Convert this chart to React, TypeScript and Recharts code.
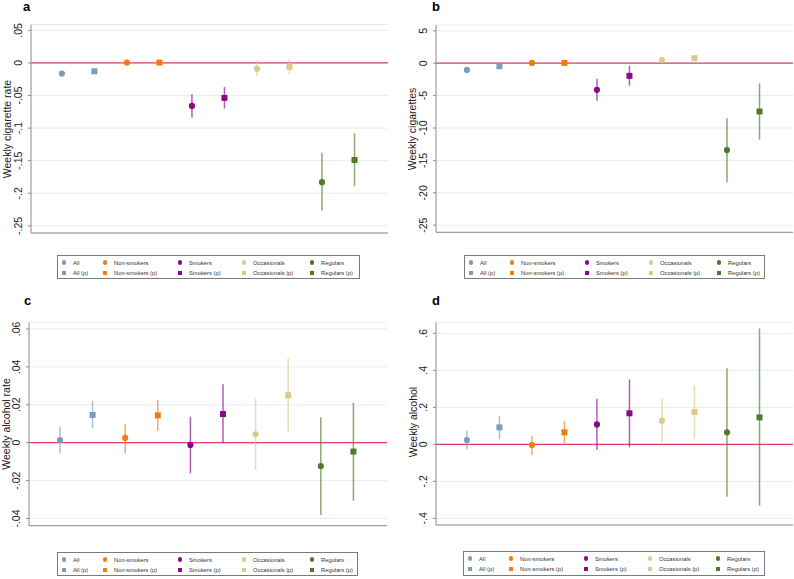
import React from "react";
import {
  ScatterChart,
  Scatter,
  ErrorBar,
  XAxis,
  YAxis,
  CartesianGrid,
  ReferenceLine,
} from "recharts";

// series (same order in every panel)
const seriesNames = [
  "All",
  "All (p)",
  "Non-smokers",
  "Non-smokers (p)",
  "Smokers",
  "Smokers (p)",
  "Occasionals",
  "Occasionals (p)",
  "Regulars",
  "Regulars (p)",
];
const seriesColors = [
  "#7c9cbc",
  "#7c9cbc",
  "#ee7d14",
  "#ee7d14",
  "#880a88",
  "#880a88",
  "#d8cc8a",
  "#d8cc8a",
  "#4f7a2c",
  "#4f7a2c",
];
const seriesShapes = ["circle", "square", "circle", "square", "circle", "square", "circle", "square", "circle", "square"];

// a - weekly cigarette rate
const cigRateEst = [-0.0163, -0.0128, 0.0005, 0.0005, -0.066, -0.0536, -0.009, -0.006, -0.183, -0.149];
const cigRateLow = [-0.0185, -0.015, -0.001, -0.001, -0.084, -0.07, -0.02, -0.018, -0.227, -0.189];
const cigRateHigh = [-0.014, -0.0106, 0.002, 0.002, -0.048, -0.037, 0.004, 0.006, -0.138, -0.108];
const cigRateTicks = [0.05, 0, -0.05, -0.1, -0.15, -0.2, -0.25];

// b - weekly cigarettes
const cigEst = [-1.03, -0.46, 0.05, 0.05, -4.1, -1.95, 0.5, 0.77, -13.4, -7.45];
const cigLow = [-1.4, -0.8, -0.2, -0.2, -5.8, -3.45, 0.1, 0.35, -18.4, -11.8];
const cigHigh = [-0.65, -0.1, 0.3, 0.3, -2.4, -0.4, 0.9, 1.2, -8.5, -3.1];
const cigTicks = [5, 0, -5, -10, -15, -20, -25];

// c - weekly alcohol rate
const alcRateEst = [0.0014, 0.0146, 0.0025, 0.0144, -0.0012, 0.0151, 0.0044, 0.025, -0.0123, -0.0047];
const alcRateLow = [-0.0056, 0.0076, -0.0056, 0.0062, -0.0162, 0.0, -0.0144, 0.0058, -0.0381, -0.0306];
const alcRateHigh = [0.0084, 0.022, 0.0098, 0.0225, 0.0137, 0.0308, 0.0232, 0.0445, 0.0134, 0.0211];
const alcRateTicks = [0.06, 0.04, 0.02, 0, -0.02, -0.04];

// d - weekly alcohol
const alcEst = [0.023, 0.092, -0.004, 0.065, 0.108, 0.168, 0.128, 0.175, 0.065, 0.146];
const alcLow = [-0.027, 0.027, -0.058, 0.005, -0.031, -0.016, 0.011, 0.032, -0.283, -0.332];
const alcHigh = [0.074, 0.153, 0.047, 0.126, 0.247, 0.351, 0.247, 0.317, 0.411, 0.627];
const alcTicks = [0.6, 0.4, 0.2, 0, -0.2, -0.4];

const FONT = '"Liberation Sans", Arial, Helvetica, sans-serif';
const PW = 397;
const PH = 290;

const fmt = (v: number) =>
  v === 0 ? "0" : Number(v.toFixed(4)).toString().replace(/^(-?)0\./, "$1.");

const RotTick = (props: any) => {
  const { x, y, payload } = props;
  return (
    <text
      x={x}
      y={y}
      transform={`rotate(-90 ${x} ${y})`}
      textAnchor="middle"
      fontSize={10.5}
      fontFamily={FONT}
      fill="#222"
    >
      {fmt(payload.value)}
    </text>
  );
};

const markerShape = (kind: string, color: string) => (p: any) =>
  kind === "circle" ? (
    <circle cx={p.cx} cy={p.cy} r={3.1} fill={color} />
  ) : (
    <rect x={p.cx - 3} y={p.cy - 3} width={6} height={6} fill={color} />
  );

const legendCols = [6, 47, 122, 186, 254];

const LegendBox = ({ left, top, width, height }: any) => (
  <div
    style={{
      position: "absolute",
      left,
      top,
      width,
      height,
      border: "1px solid #7a7a7a",
      boxSizing: "border-box",
      background: "#fff",
      fontFamily: FONT,
      fontSize: 5.8,
      color: "#333",
    }}
  >
    {seriesNames.map((name, i) => {
      const col = Math.floor(i / 2);
      const row = i % 2;
      const cx = legendCols[col];
      const cy = row === 0 ? 6.5 : 17;
      return (
        <div key={name}>
          <div
            style={{
              position: "absolute",
              left: cx - 2.2,
              top: cy - 2.2,
              width: 4.4,
              height: 4.4,
              borderRadius: seriesShapes[i] === "circle" ? "50%" : 0,
              background: seriesColors[i],
            }}
          />
          <div
            style={{
              position: "absolute",
              left: cx + 9,
              top: cy - 4,
              lineHeight: "8px",
              whiteSpace: "nowrap",
            }}
          >
            {name}
          </div>
        </div>
      );
    })}
  </div>
);

interface PanelProps {
  letter: string;
  title: string;
  left: number;
  top: number;
  axisX: number;
  plotTop: number;
  plotBottom: number;
  plotRight: number;
  domain: [number, number];
  ticks: number[];
  est: number[];
  low: number[];
  high: number[];
  letterX: number;
  letterY: number;
  titleX: number;
  titleY: number;
  legend: { left: number; top: number; width: number; height: number };
}

const Panel = (p: PanelProps) => {
  const points = p.est.map((v, i) => ({
    x: i + 1,
    y: v,
    err: [v - p.low[i], p.high[i] - v],
  }));
  return (
    <>
      <div style={{ position: "absolute", left: p.left, top: p.top, width: PW, height: PH }}>
        <ScatterChart
          width={PW}
          height={PH}
          margin={{ top: p.plotTop, right: PW - p.plotRight, bottom: PH - p.plotBottom - 1, left: 0 }}
        >
          <CartesianGrid horizontal vertical={false} stroke="#e3eff2" />
          <XAxis
            type="number"
            dataKey="x"
            domain={[0.05, 11.03]}
            allowDataOverflow
            height={1}
            tick={false}
            tickLine={false}
            axisLine={{ stroke: "#8c8c8c" }}
          />
          <YAxis
            type="number"
            dataKey="y"
            width={p.axisX}
            domain={p.domain}
            allowDataOverflow
            ticks={p.ticks}
            interval={0}
            tick={<RotTick />}
            tickSize={3}
            tickMargin={6}
            tickLine={{ stroke: "#8c8c8c" }}
            axisLine={{ stroke: "#8c8c8c" }}
          />
          <ReferenceLine y={0} stroke="#e0405e" strokeWidth={1.2} />
          {points.map((pt, i) => (
            <Scatter
              key={seriesNames[i]}
              name={seriesNames[i]}
              data={[pt]}
              fill={seriesColors[i]}
              shape={markerShape(seriesShapes[i], seriesColors[i])}
              isAnimationActive={false}
            >
              <ErrorBar
                dataKey="err"
                direction="y"
                width={0}
                stroke={seriesColors[i]}
                strokeOpacity={0.65}
                strokeWidth={1.5}
              />
            </Scatter>
          ))}
        </ScatterChart>
      </div>
      <div
        style={{
          position: "absolute",
          left: p.letterX,
          top: p.letterY,
          fontFamily: FONT,
          fontWeight: "bold",
          fontSize: 13,
          lineHeight: "13px",
        }}
      >
        {p.letter}
      </div>
      <div
        style={{
          position: "absolute",
          left: p.titleX,
          top: p.titleY,
          transform: "translate(-50%, -50%) rotate(-90deg)",
          fontFamily: FONT,
          fontSize: 10.5,
          whiteSpace: "nowrap",
          color: "#222",
        }}
      >
        {p.title}
      </div>
      <LegendBox {...p.legend} />
    </>
  );
};

export default function App() {
  return (
    <div style={{ position: "relative", width: 794, height: 579, background: "#fff", overflow: "hidden" }}>
      <style>{"body{margin:0}"}</style>
      <Panel
        letter="a"
        title="Weekly cigarette rate"
        left={0}
        top={0}
        axisX={31}
        plotTop={24.5}
        plotBottom={233}
        plotRight={388}
        domain={[-0.261, 0.059]}
        ticks={cigRateTicks}
        est={cigRateEst}
        low={cigRateLow}
        high={cigRateHigh}
        letterX={23}
        letterY={0}
        titleX={7}
        titleY={129}
        legend={{ left: 57, top: 255, width: 303, height: 24 }}
      />
      <Panel
        letter="b"
        title="Weekly cigarettes"
        left={397}
        top={0}
        axisX={39}
        plotTop={25}
        plotBottom={232.3}
        plotRight={396}
        domain={[-26.1, 5.9]}
        ticks={cigTicks}
        est={cigEst}
        low={cigLow}
        high={cigHigh}
        letterX={432}
        letterY={0}
        titleX={412}
        titleY={128.5}
        legend={{ left: 464, top: 255, width: 301, height: 24 }}
      />
      <Panel
        letter="c"
        title="Weekly alcohol rate"
        left={0}
        top={290}
        axisX={29}
        plotTop={32.3}
        plotBottom={235.7}
        plotRight={387}
        domain={[-0.0438, 0.0635]}
        ticks={alcRateTicks}
        est={alcRateEst}
        low={alcRateLow}
        high={alcRateHigh}
        letterX={24}
        letterY={294}
        titleX={6}
        titleY={424}
        legend={{ left: 57, top: 552, width: 301, height: 24 }}
      />
      <Panel
        letter="d"
        title="Weekly alcohol"
        left={397}
        top={290}
        axisX={39}
        plotTop={32.3}
        plotBottom={235}
        plotRight={396}
        domain={[-0.436, 0.66]}
        ticks={alcTicks}
        est={alcEst}
        low={alcLow}
        high={alcHigh}
        letterX={432}
        letterY={294}
        titleX={412.5}
        titleY={422}
        legend={{ left: 463, top: 551, width: 302, height: 25 }}
      />
    </div>
  );
}
